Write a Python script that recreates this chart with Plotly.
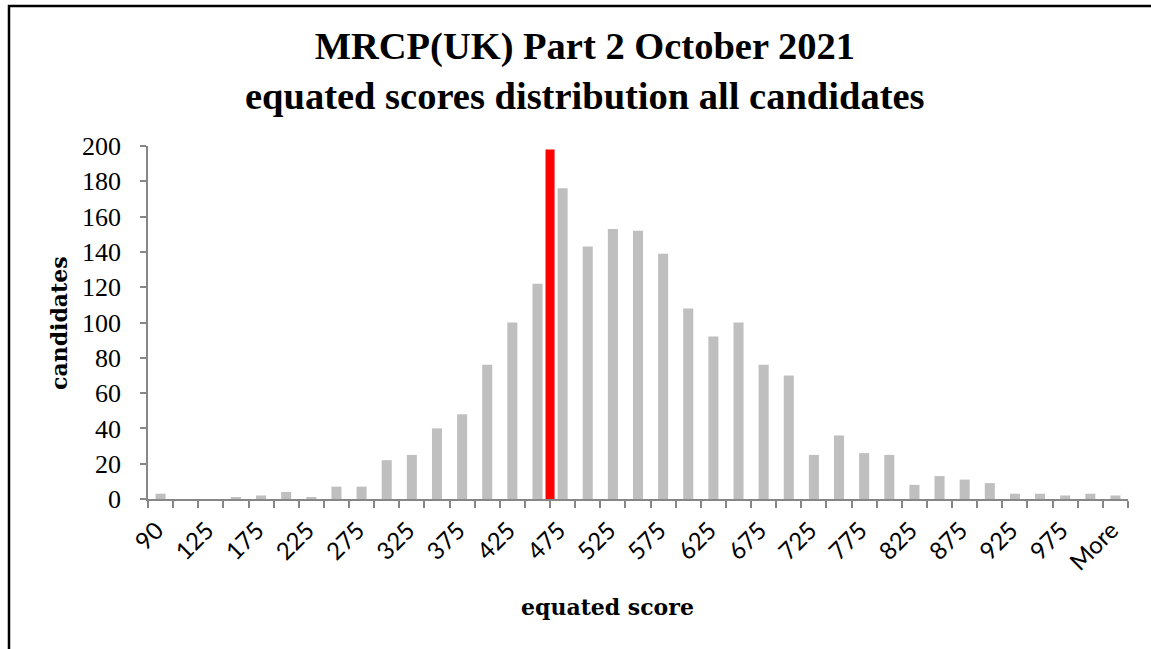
import plotly.graph_objects as go

# ---- data ----
bins = ["90", "100", "125", "150", "175", "200", "225", "250", "275", "300",
        "325", "350", "375", "400", "425", "450", "475", "500", "525", "550",
        "575", "600", "625", "650", "675", "700", "725", "750", "775", "800",
        "825", "850", "875", "900", "925", "950", "975", "1000", "More"]
candidates = [3, 0, 0, 1, 2, 4, 1, 7, 7, 22,
              25, 40, 48, 76, 100, 122, 176, 143, 153, 152,
              139, 108, 92, 100, 76, 70, 25, 36, 26, 25,
              8, 13, 11, 9, 3, 3, 2, 3, 2]
# pass mark drawn between the 450 and 475 bins
pass_mark_between = ("450", "475")
pass_mark_height = [198]

title_text = "MRCP(UK) Part 2 October 2021<br>equated scores distribution all candidates"
x_title = "equated score"
y_title = "candidates"

# ---- figure ----
W, H = 1151, 649
L, R, T, B = 148, 23, 146, 150
pw, ph = W - L - R, H - T - B


def px_x(p):
    return (p - L) / pw


def px_y(p):
    return (H - B - p) / ph


idx = list(range(len(bins)))
pm_x = (bins.index(pass_mark_between[0]) + bins.index(pass_mark_between[1])) / 2

fig = go.Figure()
fig.add_trace(go.Bar(x=idx, y=candidates, marker=dict(color="#BFBFBF", line=dict(width=0)),
                     width=0.4, showlegend=False))
fig.add_trace(go.Bar(x=[pm_x], y=pass_mark_height, marker=dict(color="#FF0000", line=dict(width=0)),
                     width=0.36, showlegend=False))

axis_col = "#878787"
fig.update_layout(
    width=W, height=H,
    margin=dict(l=L, r=R, t=T, b=B),
    paper_bgcolor="white", plot_bgcolor="white",
    barmode="overlay",
    xaxis=dict(range=[-0.5, len(bins) - 0.5], tickmode="array",
               tickvals=idx[::2], ticktext=bins[::2], tickangle=-45,
               tickfont=dict(family="Lato", size=24, color="black"),
               ticklabelstandoff=6, ticklabelshift=-4,
               showline=True, linecolor=axis_col, linewidth=1.5,
               ticks="", showgrid=False, zeroline=False,
               minor=dict(tickmode="array", tickvals=[i - 0.5 for i in range(len(bins) + 1)],
                          ticks="outside", ticklen=7, tickcolor=axis_col, tickwidth=1.5,
                          showgrid=False)),
    yaxis=dict(range=[0, 200], dtick=20, tickfont=dict(family="Liberation Serif", size=26, color="black"),
               showline=True, linecolor=axis_col, linewidth=1.5,
               ticks="outside", ticklen=6, tickcolor=axis_col, tickwidth=1.5,
               ticklabelstandoff=14,
               showgrid=False, zeroline=False),
    annotations=[
        dict(text=title_text, xref="paper", yref="paper", x=px_x(585), y=px_y(71),
             xanchor="center", yanchor="middle", showarrow=False, align="center",
             font=dict(family="Liberation Serif", size=38.5, color="black", weight="bold")),
        dict(text=x_title, xref="paper", yref="paper", x=px_x(607), y=px_y(607),
             xanchor="center", yanchor="middle", showarrow=False,
             font=dict(family="DejaVu Serif", size=22, color="black", weight="bold")),
        dict(text=y_title, xref="paper", yref="paper", x=px_x(59), y=px_y(323),
             xanchor="center", yanchor="middle", textangle=-90, showarrow=False,
             font=dict(family="DejaVu Serif", size=22, color="black", weight="bold")),
    ],
    shapes=[dict(type="rect", xref="paper", yref="paper",
                 x0=px_x(9), x1=1.5, y0=-1.0, y1=px_y(6),
                 line=dict(color="black", width=2.5), fillcolor="rgba(0,0,0,0)", layer="below")],
)

fig.write_html("out.html", config={"displayModeBar": False},
               post_script="document.body.style.margin='0';")
